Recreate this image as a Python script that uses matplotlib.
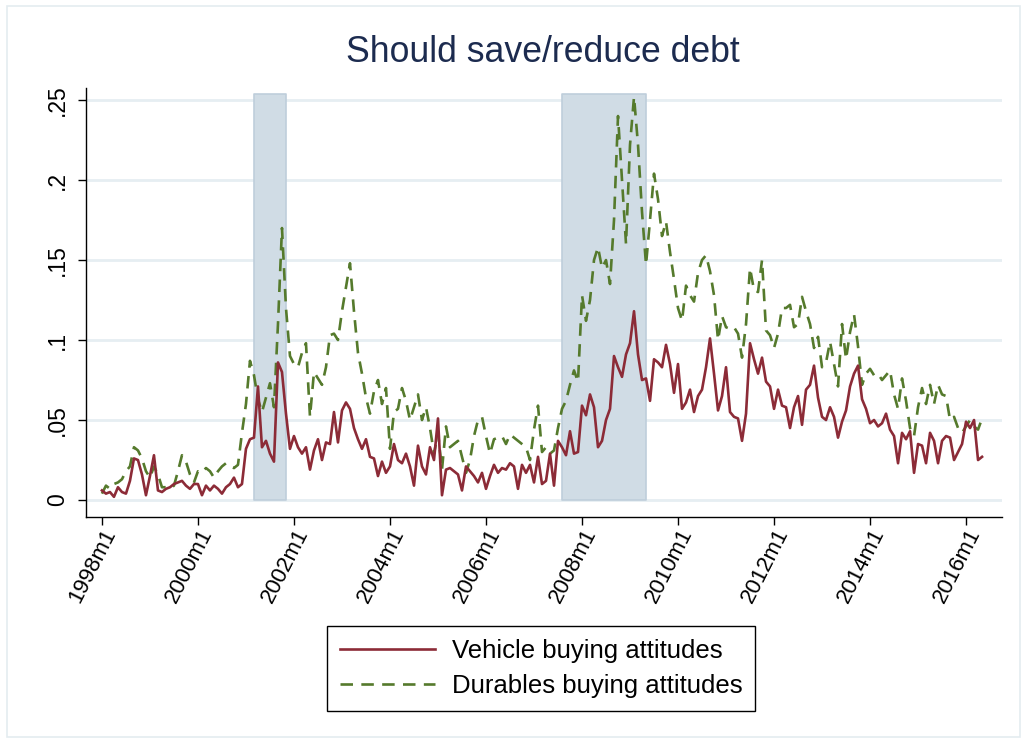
import matplotlib
matplotlib.use("Agg")
import matplotlib.pyplot as plt
from matplotlib.patches import Rectangle
import numpy as np

# monthly shares, 1998m1 onwards
vehicle = [
    0.006, 0.004, 0.005, 0.002, 0.008, 0.005, 0.004, 0.012, 0.026, 0.025,
    0.016, 0.003, 0.015, 0.028, 0.006, 0.005, 0.007, 0.008, 0.010, 0.011,
    0.012, 0.009, 0.007, 0.010, 0.010, 0.003, 0.009, 0.006, 0.009, 0.007,
    0.004, 0.008, 0.010, 0.014, 0.008, 0.010, 0.032, 0.038, 0.039, 0.071,
    0.033, 0.037, 0.029, 0.024, 0.086, 0.080, 0.054, 0.032, 0.040, 0.033,
    0.029, 0.033, 0.019, 0.031, 0.038, 0.025, 0.036, 0.035, 0.055, 0.036,
    0.056, 0.061, 0.057, 0.045, 0.038, 0.032, 0.038, 0.027, 0.026, 0.015,
    0.024, 0.017, 0.021, 0.035, 0.025, 0.023, 0.029, 0.021, 0.009, 0.034,
    0.021, 0.016, 0.033, 0.025, 0.051, 0.003, 0.019, 0.020, 0.018, 0.016,
    0.006, 0.021, 0.018, 0.015, 0.011, 0.017, 0.007, 0.015, 0.022, 0.017,
    0.020, 0.019, 0.023, 0.021, 0.007, 0.022, 0.017, 0.022, 0.011, 0.027,
    0.010, 0.012, 0.029, 0.009, 0.037, 0.033, 0.028, 0.043, 0.029, 0.030,
    0.059, 0.053, 0.066, 0.058, 0.033, 0.037, 0.050, 0.057, 0.090, 0.083,
    0.077, 0.091, 0.098, 0.118, 0.091, 0.075, 0.076, 0.062, 0.088, 0.086,
    0.083, 0.097, 0.085, 0.067, 0.085, 0.057, 0.061, 0.069, 0.055, 0.065,
    0.069, 0.083, 0.101, 0.079, 0.056, 0.065, 0.083, 0.055, 0.052, 0.051,
    0.037, 0.054, 0.098, 0.088, 0.079, 0.089, 0.074, 0.071, 0.057, 0.069,
    0.059, 0.058, 0.045, 0.058, 0.065, 0.047, 0.069, 0.072, 0.084, 0.064,
    0.052, 0.050, 0.058, 0.052, 0.039, 0.049, 0.056, 0.071, 0.079, 0.084,
    0.063, 0.057, 0.048, 0.050, 0.046, 0.048, 0.054, 0.044, 0.040, 0.023,
    0.042, 0.038, 0.043, 0.017, 0.035, 0.034, 0.023, 0.042, 0.037, 0.023,
    0.037, 0.040, 0.039, 0.025, 0.030, 0.035, 0.049, 0.045, 0.050, 0.025,
    0.027,
]
durables = [
    0.004, 0.009, 0.007, 0.010, 0.011, 0.013, 0.018, 0.021, 0.033, 0.031,
    0.026, 0.018, 0.014, 0.021, 0.016, 0.008, 0.008, 0.007, 0.009, 0.018,
    0.028, 0.024, 0.016, 0.011, 0.018, 0.017, 0.020, 0.018, 0.014, 0.018,
    0.021, 0.023, 0.021, 0.020, 0.022, 0.042, 0.060, 0.087, 0.078, 0.063,
    0.055, 0.064, 0.073, 0.058, 0.110, 0.170, 0.120, 0.090, 0.085, 0.083,
    0.092, 0.098, 0.052, 0.080, 0.076, 0.072, 0.083, 0.103, 0.104, 0.100,
    0.118, 0.133, 0.148, 0.118, 0.092, 0.079, 0.064, 0.054, 0.068, 0.075,
    0.060, 0.070, 0.032, 0.055, 0.057, 0.070, 0.062, 0.050, 0.058, 0.066,
    0.050, 0.058, 0.045, 0.029, 0.042, 0.019, 0.046, 0.033, 0.035, 0.037,
    0.027, 0.017, 0.025, 0.040, 0.050, 0.052, 0.040, 0.029, 0.038, 0.039,
    0.040, 0.035, 0.041, 0.039, 0.037, 0.035, 0.033, 0.025, 0.044, 0.059,
    0.030, 0.033, 0.029, 0.031, 0.045, 0.057, 0.062, 0.072, 0.081, 0.074,
    0.128, 0.112, 0.125, 0.150, 0.158, 0.145, 0.150, 0.135, 0.175, 0.240,
    0.200, 0.160, 0.222, 0.252, 0.222, 0.180, 0.147, 0.175, 0.204, 0.188,
    0.165, 0.174, 0.155, 0.138, 0.120, 0.112, 0.134, 0.128, 0.124, 0.142,
    0.150, 0.153, 0.143, 0.128, 0.100, 0.115, 0.108, 0.107, 0.108, 0.104,
    0.089, 0.110, 0.145, 0.131, 0.130, 0.150, 0.106, 0.103, 0.095, 0.104,
    0.120, 0.120, 0.122, 0.108, 0.110, 0.127, 0.118, 0.110, 0.095, 0.102,
    0.083, 0.086, 0.099, 0.085, 0.071, 0.110, 0.088, 0.105, 0.116, 0.096,
    0.072, 0.079, 0.082, 0.078, 0.079, 0.075, 0.078, 0.081, 0.066, 0.057,
    0.076, 0.062, 0.045, 0.040, 0.058, 0.070, 0.060, 0.072, 0.060, 0.072,
    0.066, 0.065, 0.050, 0.052, 0.045, 0.042, 0.046, 0.050, 0.046, 0.044,
    0.051,
]

xtick_labels = ["1998m1", "2000m1", "2002m1", "2004m1", "2006m1",
                "2008m1", "2010m1", "2012m1", "2014m1", "2016m1"]
ytick_values = [0, 0.05, 0.1, 0.15, 0.2, 0.25]
ytick_labels = ["0", ".05", ".1", ".15", ".2", ".25"]
recessions = [("2001m3", "2001m11"), ("2007m8", "2009m5")]
recession_top = 0.254


def month_index(label):
    year, month = label.split("m")
    return (int(year) - 1998) * 12 + int(month) - 1


plt.rcParams["font.family"] = ["Liberation Sans", "DejaVu Sans"]
plt.rcParams["lines.scale_dashes"] = False

fig = plt.figure(figsize=(10.27, 7.41), dpi=100)
ax = fig.add_axes([0.0837, 0.3023, 0.8920, 0.5789])

months = np.arange(len(vehicle))

# light grid at the y ticks
for v in ytick_values:
    ax.axhline(v, color="#e6eef2", lw=2, zorder=0)

# shaded recessions
for start, end in recessions:
    ax.fill_between([month_index(start), month_index(end)], 0, recession_top,
                    facecolor="#d0dce5", edgecolor="#bfcedb", lw=1.2, zorder=1)

ax.plot(months, vehicle, color="#8c2b37", lw=1.9, zorder=3,
        label="Vehicle buying attitudes")
ax.plot(months, durables, color="#557a2c", lw=1.9, dashes=(9, 6), zorder=2,
        label="Durables buying attitudes")

ax.set_xlim(-4, 225)
ax.set_ylim(-0.0106, 0.2575)

ax.set_xticks([month_index(t) for t in xtick_labels])
ax.set_xticklabels(xtick_labels, rotation=63, ha="right", va="top",
                   rotation_mode="anchor", fontsize=16)
ax.set_yticks(ytick_values)
ax.set_yticklabels(ytick_labels, rotation=90, va="center", fontsize=16.5)
ax.tick_params(axis="both", direction="out", length=6, width=1, color="black")
ax.tick_params(axis="x", pad=0)
ax.tick_params(axis="y", pad=6)

for side in ["top", "right"]:
    ax.spines[side].set_visible(False)
for side in ["left", "bottom"]:
    ax.spines[side].set_linewidth(1)

fig.text(0.529, 0.9285, "Should save/reduce debt", ha="center", va="center",
         fontsize=25.7, color="#1c2b4f")

leg = fig.legend(loc="upper left", bbox_to_anchor=(327 / 1027, 1 - 626 / 741),
                 frameon=True, fancybox=False, edgecolor="black",
                 framealpha=1, fontsize=18.5, handlelength=3.7,
                 handletextpad=0.65, borderpad=0.5, labelspacing=0.45,
                 borderaxespad=0)
leg.get_frame().set_linewidth(1)

# thin outer frame of the graph region
fig.patches.append(Rectangle((0.007, 0.006), 0.986, 0.986,
                             transform=fig.transFigure, fill=False,
                             edgecolor="#e4ecf0", lw=1.2))

fig.savefig("out.png", dpi=100)
